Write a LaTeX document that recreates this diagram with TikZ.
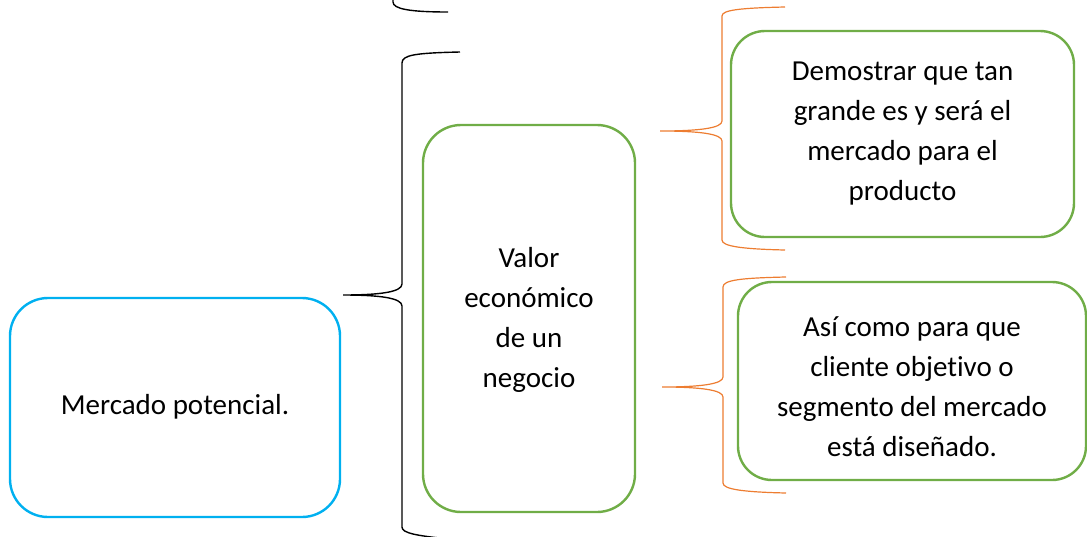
\documentclass[tikz,border=0pt]{standalone}
\usepackage{fontspec}
\setmainfont{Carlito}[RawFeature={-liga}]
\definecolor{boxblue}{HTML}{00B0F0}
\definecolor{boxgreen}{HTML}{70AD47}
\definecolor{braceorange}{HTML}{ED7D31}
\begin{document}
\begin{tikzpicture}[x=1pt,y=-1pt,
  rbox/.style={draw, line width=2.4pt, rounded corners=38pt, inner sep=0pt,
    align=center, font=\fontsize{29}{40}\selectfont, text=black},
  bluebox/.style={rbox, draw=boxblue},
  greenbox/.style={rbox, draw=boxgreen},
  blackbrace/.style={draw=black, line width=1.4pt},
  orangebrace/.style={draw=braceorange, line width=1.2pt}]
\useasboundingbox (0,0) rectangle (1087,536);
\clip (0,0) rectangle (1087,536);
% boxes
\node[bluebox, minimum width=330pt, minimum height=219pt] (mp) at (175,407.5) {};
\node[font=\fontsize{29}{40}\selectfont] (mpt) at (175,407) {Mercado potencial.};
\node[greenbox, minimum width=212pt, minimum height=387pt] (ve) at (529,318.5) {};
\node[font=\fontsize{29}{40}\selectfont, align=center] (vet) at (529,320) {Valor\\económico\\de un\\negocio};
\node[greenbox, rounded corners=34pt, minimum width=343pt, minimum height=206pt] (dm) at (902.5,134) {};
\node[font=\fontsize{29}{40}\selectfont, align=center] (dmt) at (902.5,134) {Demostrar que tan\\grande es y será el\\mercado para el\\producto};
\node[greenbox, rounded corners=34pt, minimum width=348pt, minimum height=198pt] (ac) at (912,381) {};
\node[font=\fontsize{29}{40}\selectfont, align=center] (act) at (912,387) {Así como para que\\cliente objetivo o\\segmento del mercado\\está diseñado.};
% top fragment of a brace
\coordinate (tf) at (448,12);
\draw[blackbrace] (393,-20) -- (393,2) .. controls (393,9) and (410,12) .. (tf);
% main black brace
\coordinate (bt) at (343,295);
\draw[blackbrace] (460,52) .. controls (415,53) and (402,55) .. (402,63)
  -- (402,284) .. controls (402,292) and (380,295) .. (bt)
  .. controls (380,295) and (402,298) .. (402,306)
  -- (402,527) .. controls (402,533) and (415,536) .. (460,540);
% orange brace 1
\coordinate (ot1) at (660,131);
\draw[orangebrace] (785,7) .. controls (740,8) and (722,10) .. (722,16)
  -- (722,121) .. controls (722,128) and (700,131) .. (ot1)
  .. controls (700,131) and (722,134) .. (722,141)
  -- (722,240) .. controls (722,246) and (740,249) .. (785,250);
% orange brace 2
\coordinate (ot2) at (662,387);
\draw[orangebrace] (786,277) .. controls (741,278) and (723,280) .. (723,287)
  -- (723,377) .. controls (723,384) and (701,387) .. (ot2)
  .. controls (701,387) and (723,390) .. (723,397)
  -- (723,483) .. controls (723,489) and (741,492) .. (786,493);
\end{tikzpicture}
\end{document}
